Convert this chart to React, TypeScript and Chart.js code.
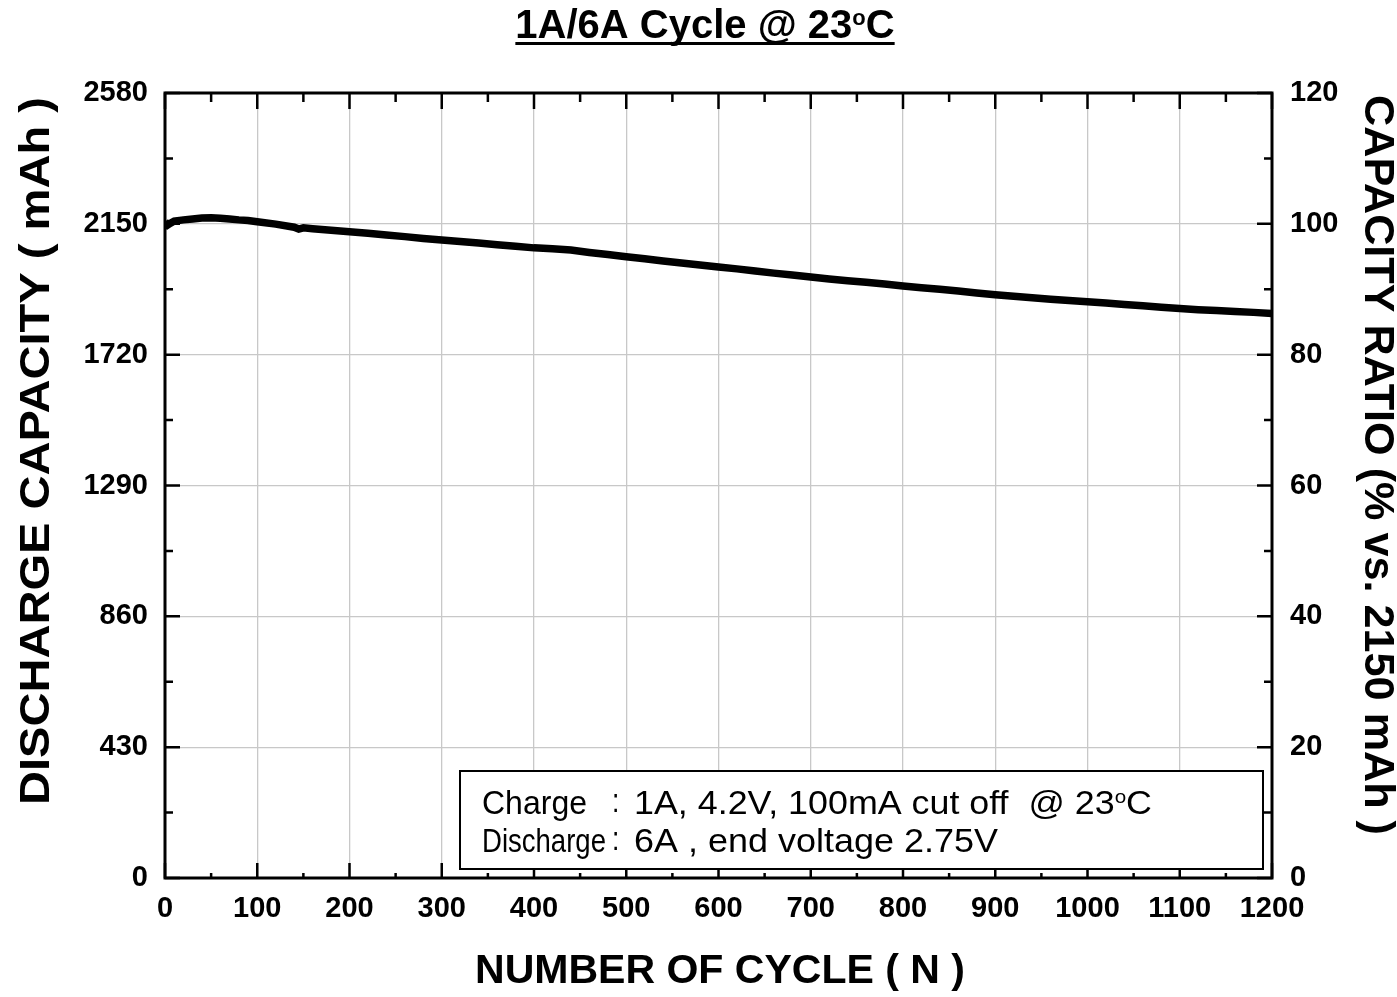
import React, { useEffect, useRef } from 'react';
import { Chart, registerables } from 'chart.js';

Chart.register(...registerables);

// ---- Data ----
const cycles = [
  0, 3, 6, 10, 20, 30, 40, 50, 60, 70, 80, 90, 100, 120, 140, 145, 150, 160, 180, 200,
  220, 240, 260, 280, 300, 320, 340, 360, 380, 400, 420, 440, 460, 480, 500,
  520, 540, 560, 580, 600, 620, 640, 660, 680, 700, 720, 740, 760, 780, 800,
  820, 840, 860, 880, 900, 920, 940, 960, 980, 1000, 1020, 1040, 1060, 1080, 1100,
  1120, 1140, 1160, 1180, 1200,
];
const capacity = [
  2158, 2146, 2152, 2159, 2163, 2166, 2169, 2170, 2168, 2166, 2163, 2161, 2157, 2149, 2139, 2133, 2137, 2134, 2129, 2124,
  2119, 2113, 2108, 2102, 2097, 2092, 2087, 2081, 2076, 2071, 2068, 2064, 2056, 2049, 2042,
  2035, 2028, 2021, 2015, 2008, 2002, 1995, 1988, 1982, 1975, 1969, 1963, 1958, 1952, 1946,
  1940, 1935, 1929, 1923, 1917, 1912, 1907, 1902, 1898, 1894, 1890, 1885, 1881, 1876, 1872,
  1868, 1865, 1862, 1859, 1855,
];

const xMax = 1200;
const xStep = 100;
const xMinorStep = 50;
const yLeftMax = 2580;
const yLeftStep = 430;
const yLeftMinorStep = 215;
const yRightMax = 120;
const yRightStep = 20;

const chartTitle = ['1A/6A Cycle @ 23', 'o', 'C'];
const xTitle = 'NUMBER OF CYCLE ( N )';
const yLeftTitle = 'DISCHARGE CAPACITY ( mAh )';
const yRightTitle = 'CAPACITY RATIO (% vs. 2150 mAh )';
const noteLabels = ['Charge', 'Discharge'];
const noteLine1 = ['1A, 4.2V, 100mA cut off  @ 23', 'o', 'C'];
const noteLine2 = '6A , end voltage 2.75V';

const FONT = '"Liberation Sans", Arial, Helvetica, sans-serif';

function drawFitted(
  ctx: CanvasRenderingContext2D,
  text: string,
  x: number,
  y: number,
  font: string,
  target: number,
  rotation: number,
) {
  ctx.save();
  ctx.font = font;
  const w = ctx.measureText(text).width;
  const s = target / w;
  ctx.translate(x, y);
  ctx.rotate(rotation);
  ctx.scale(s, 1);
  ctx.textAlign = 'center';
  ctx.textBaseline = 'middle';
  ctx.fillStyle = '#000';
  ctx.fillText(text, 0, 0);
  ctx.restore();
}

const decorPlugin = {
  id: 'decor',
  afterDatasetsDraw(chart: any) {
    const ctx: CanvasRenderingContext2D = chart.ctx;
    const { left, right, top, bottom } = chart.chartArea;
    const xs = chart.scales.x;
    const yl = chart.scales.y;
    ctx.save();
    ctx.strokeStyle = '#000';
    ctx.lineWidth = 2.5;
    ctx.lineCap = 'butt';
    for (let v = 0; v <= xMax; v += xMinorStep) {
      const major = v % xStep === 0;
      const px = xs.getPixelForValue(v);
      ctx.beginPath();
      ctx.moveTo(px, bottom);
      ctx.lineTo(px, bottom - (major ? 15 : 5));
      ctx.moveTo(px, top);
      ctx.lineTo(px, top + (major ? 16 : 9));
      ctx.stroke();
    }
    for (let v = 0; v <= yLeftMax; v += yLeftMinorStep) {
      const major = v % yLeftStep === 0;
      const py = yl.getPixelForValue(v);
      ctx.beginPath();
      ctx.moveTo(left, py);
      ctx.lineTo(left + (major ? 15 : 8), py);
      ctx.moveTo(right, py);
      ctx.lineTo(right - (major ? 15 : 8), py);
      ctx.stroke();
    }
    ctx.lineWidth = 3;
    ctx.strokeRect(left, top, right - left, bottom - top);
    ctx.restore();
  },
  afterDraw(chart: any) {
    const ctx: CanvasRenderingContext2D = chart.ctx;
    ctx.save();
    ctx.fillStyle = '#000';
    // ---- Title with superscript and underline ----
    const tFont = `bold 40px ${FONT}`;
    const tSup = `bold 22px ${FONT}`;
    ctx.font = tFont;
    const w1 = ctx.measureText(chartTitle[0]).width;
    const w3 = ctx.measureText(chartTitle[2]).width;
    ctx.font = tSup;
    const w2 = ctx.measureText(chartTitle[1]).width;
    const total = w1 + w2 + w3;
    const tx0 = 705 - total / 2;
    const tBase = 38;
    ctx.textAlign = 'left';
    ctx.textBaseline = 'alphabetic';
    ctx.font = tFont;
    ctx.fillText(chartTitle[0], tx0, tBase);
    ctx.font = tSup;
    ctx.fillText(chartTitle[1], tx0 + w1, tBase - 13);
    ctx.font = tFont;
    ctx.fillText(chartTitle[2], tx0 + w1 + w2, tBase);
    ctx.fillRect(tx0, tBase + 4, total, 3);

    // ---- Axis titles ----
    drawFitted(ctx, xTitle, 720, 972, `bold 41px ${FONT}`, 490, 0);
    drawFitted(ctx, yLeftTitle, 37, 451, `bold 42px ${FONT}`, 708, -Math.PI / 2);
    drawFitted(ctx, yRightTitle, 1377, 465, `bold 42px ${FONT}`, 740, Math.PI / 2);

    // ---- Note box ----
    ctx.fillStyle = '#fff';
    ctx.fillRect(460, 771, 803, 98);
    ctx.strokeStyle = '#000';
    ctx.lineWidth = 2;
    ctx.strokeRect(460, 771, 803, 98);

    const nFont = `33px ${FONT}`;
    const nSup = `19px ${FONT}`;
    const drawS = (text: string, x: number, y: number, font: string, sx: number) => {
      ctx.save();
      ctx.font = font;
      ctx.translate(x, y);
      ctx.scale(sx, 1);
      ctx.textAlign = 'left';
      ctx.textBaseline = 'alphabetic';
      ctx.fillStyle = '#000';
      ctx.fillText(text, 0, 0);
      ctx.restore();
      ctx.font = font;
      return ctx.measureText(text).width * sx;
    };
    const measure = (text: string, font: string) => {
      ctx.font = font;
      return ctx.measureText(text).width;
    };
    const b1 = 814;
    const b2 = 852;
    const sLab1 = 105 / measure(noteLabels[0], nFont);
    const sLab2 = 124 / measure(noteLabels[1], nFont);
    drawS(noteLabels[0], 482, b1, nFont, sLab1);
    drawS(noteLabels[1], 482, b2, nFont, sLab2);
    drawS(':', 612, b1 - 2, nFont, 0.8);
    drawS(':', 612, b2 - 2, nFont, 0.8);
    const l1w =
      measure(noteLine1[0], nFont) + measure(noteLine1[1], nSup) + measure(noteLine1[2], nFont);
    const s1 = 518 / l1w;
    let cx = 634;
    cx += drawS(noteLine1[0], cx, b1, nFont, s1);
    cx += drawS(noteLine1[1], cx, b1 - 11, nSup, s1);
    drawS(noteLine1[2], cx, b1, nFont, s1);
    const s2 = 364 / measure(noteLine2, nFont);
    drawS(noteLine2, 634, b2, nFont, s2);
    ctx.restore();
  },
};

export default function App() {
  const ref = useRef<HTMLCanvasElement | null>(null);

  useEffect(() => {
    if (!ref.current) return;
    const points = cycles.map((c, i) => ({ x: c, y: capacity[i] }));
    const tickFont = { family: FONT, size: 29, weight: 'bold' as const };
    const plain = (v: any) => String(v);
    const chart = new Chart(ref.current, {
      type: 'line',
      data: {
        datasets: [
          {
            data: points,
            borderColor: '#000',
            borderWidth: 7.5,
            pointRadius: 0,
            tension: 0,
            fill: false,
            yAxisID: 'y',
          },
        ],
      },
      options: {
        animation: false,
        responsive: true,
        maintainAspectRatio: false,
        layout: { padding: { top: 93, left: 0, right: 0, bottom: 0 } },
        plugins: {
          legend: { display: false },
          title: { display: false },
          tooltip: { enabled: false },
        },
        scales: {
          x: {
            type: 'linear',
            min: 0,
            max: xMax,
            ticks: { stepSize: xStep, color: '#000', font: tickFont, padding: 14, maxRotation: 0, callback: plain },
            grid: { color: '#c8c8c8', lineWidth: 1.3, drawTicks: false },
            border: { display: false },
            afterFit: (s: any) => {
              s.height = 119;
            },
          },
          y: {
            type: 'linear',
            position: 'left',
            min: 0,
            max: yLeftMax,
            ticks: { stepSize: yLeftStep, color: '#000', font: tickFont, padding: 17, callback: plain },
            grid: { color: '#c8c8c8', lineWidth: 1.3, drawTicks: false },
            border: { display: false },
            afterFit: (s: any) => {
              s.width = 165;
            },
          },
          y1: {
            type: 'linear',
            position: 'right',
            min: 0,
            max: yRightMax,
            ticks: { stepSize: yRightStep, color: '#000', font: tickFont, padding: 18, callback: plain },
            grid: { display: false, drawTicks: false },
            border: { display: false },
            afterFit: (s: any) => {
              s.width = 125;
            },
          },
        },
      },
      plugins: [decorPlugin],
    });
    return () => chart.destroy();
  }, []);

  return (
    <div style={{ position: 'fixed', left: 0, top: 0, width: 1397, height: 997, background: '#fff' }}>
      <canvas ref={ref} />
    </div>
  );
}
